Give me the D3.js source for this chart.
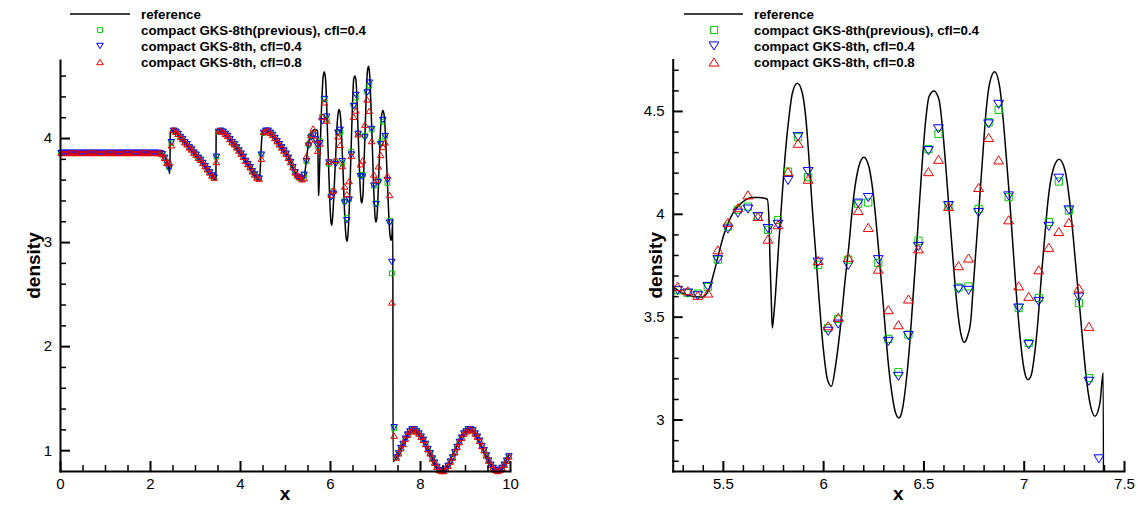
<!DOCTYPE html>
<html>
<head>
<meta charset="utf-8">
<script src="https://cdn.jsdelivr.net/npm/d3@7"></script>
<style>
  html, body { margin: 0; padding: 0; background: #fff; }
  svg { display: block; font-family: "Liberation Sans", Arial, Helvetica, sans-serif; }
</style>
</head>
<body>
<svg id="chart" width="1138" height="506"></svg>
<script>
// ---- Shu-Osher density profile, 200 cells on [0, 10] ----
const cellX = [
  0.025,0.075,0.125,0.175,0.225,0.275,0.325,0.375,0.425,0.475,
  0.525,0.575,0.625,0.675,0.725,0.775,0.825,0.875,0.925,0.975,
  1.025,1.075,1.125,1.175,1.225,1.275,1.325,1.375,1.425,1.475,
  1.525,1.575,1.625,1.675,1.725,1.775,1.825,1.875,1.925,1.975,
  2.025,2.075,2.125,2.175,2.225,2.275,2.325,2.375,2.425,2.475,
  2.525,2.575,2.625,2.675,2.725,2.775,2.825,2.875,2.925,2.975,
  3.025,3.075,3.125,3.175,3.225,3.275,3.325,3.375,3.425,3.475,
  3.525,3.575,3.625,3.675,3.725,3.775,3.825,3.875,3.925,3.975,
  4.025,4.075,4.125,4.175,4.225,4.275,4.325,4.375,4.425,4.475,
  4.525,4.575,4.625,4.675,4.725,4.775,4.825,4.875,4.925,4.975,
  5.025,5.075,5.125,5.175,5.225,5.275,5.325,5.375,5.425,5.475,
  5.525,5.575,5.625,5.675,5.725,5.775,5.825,5.875,5.925,5.975,
  6.025,6.075,6.125,6.175,6.225,6.275,6.325,6.375,6.425,6.475,
  6.525,6.575,6.625,6.675,6.725,6.775,6.825,6.875,6.925,6.975,
  7.025,7.075,7.125,7.175,7.225,7.275,7.325,7.375,7.425,7.475,
  7.525,7.575,7.625,7.675,7.725,7.775,7.825,7.875,7.925,7.975,
  8.025,8.075,8.125,8.175,8.225,8.275,8.325,8.375,8.425,8.475,
  8.525,8.575,8.625,8.675,8.725,8.775,8.825,8.875,8.925,8.975,
  9.025,9.075,9.125,9.175,9.225,9.275,9.325,9.375,9.425,9.475,
  9.525,9.575,9.625,9.675,9.725,9.775,9.825,9.875,9.925,9.975
];

// compact GKS-8th (previous), cfl = 0.4
const rhoPrev04 = [
  3.857,3.857,3.857,3.857,3.857,3.857,3.857,3.857,3.857,3.857,
  3.857,3.857,3.857,3.857,3.857,3.857,3.857,3.857,3.857,3.857,
  3.857,3.857,3.857,3.857,3.857,3.857,3.857,3.857,3.857,3.857,
  3.857,3.857,3.857,3.857,3.857,3.857,3.857,3.857,3.857,3.857,
  3.857,3.857,3.857,3.857,3.855,3.845,3.81,3.76,3.72,3.95,
  4.07,4.06,4.04,4.01,3.99,3.96,3.94,3.91,3.89,3.86,
  3.84,3.81,3.79,3.76,3.73,3.70,3.67,3.64,3.62,3.82,
  4.06,4.07,4.06,4.04,4.02,3.99,3.96,3.94,3.91,3.88,
  3.85,3.82,3.78,3.75,3.72,3.68,3.65,3.62,3.61,3.84,
  4.05,4.07,4.07,4.05,4.03,4.00,3.97,3.94,3.91,3.88,
  3.85,3.81,3.77,3.72,3.67,3.628,3.615,3.612,3.644,3.777,
  3.938,4.02,4.035,3.987,3.922,3.97,4.205,4.372,4.178,3.752,
  3.445,3.489,3.777,4.049,4.055,3.761,3.392,3.230,3.413,3.869,
  4.314,4.388,4.040,3.642,3.647,4.024,4.445,4.505,4.081,3.542,
  3.372,3.591,3.960,4.157,4.016,3.566,3.202,2.70,1.21,0.93,
  0.97,1.02,1.06,1.11,1.15,1.18,1.20,1.20,1.18,1.16,
  1.13,1.10,1.06,1.01,0.97,0.92,0.88,0.84,0.81,0.80,
  0.80,0.82,0.85,0.89,0.93,0.98,1.03,1.08,1.12,1.16,
  1.18,1.20,1.20,1.19,1.16,1.13,1.09,1.04,1.00,0.95,
  0.90,0.86,0.83,0.81,0.80,0.81,0.83,0.86,0.90,0.94
];

// compact GKS-8th, cfl = 0.4
const rhoNew04 = [
  3.857,3.857,3.857,3.857,3.857,3.857,3.857,3.857,3.857,3.857,
  3.857,3.857,3.857,3.857,3.857,3.857,3.857,3.857,3.857,3.857,
  3.857,3.857,3.857,3.857,3.857,3.857,3.857,3.857,3.857,3.857,
  3.857,3.857,3.857,3.857,3.857,3.857,3.857,3.857,3.857,3.857,
  3.857,3.857,3.857,3.857,3.855,3.845,3.81,3.76,3.71,3.96,
  4.07,4.06,4.04,4.01,3.99,3.96,3.94,3.91,3.89,3.86,
  3.84,3.81,3.79,3.76,3.73,3.70,3.67,3.64,3.62,3.82,
  4.06,4.07,4.06,4.04,4.02,3.99,3.96,3.94,3.91,3.88,
  3.85,3.82,3.78,3.75,3.72,3.68,3.65,3.62,3.61,3.84,
  4.05,4.07,4.07,4.05,4.03,4.00,3.97,3.94,3.91,3.88,
  3.85,3.81,3.77,3.72,3.67,3.628,3.615,3.602,3.647,3.777,
  3.926,4.003,4.023,3.987,3.928,3.949,4.162,4.375,4.205,3.765,
  3.429,3.464,3.749,4.052,4.079,3.777,3.380,3.210,3.408,3.841,
  4.307,4.413,4.040,3.634,3.628,4.006,4.437,4.532,4.087,3.542,
  3.364,3.574,3.939,4.173,4.019,3.595,3.186,2.809,1.22,0.93,
  0.97,1.02,1.06,1.11,1.15,1.18,1.20,1.20,1.18,1.16,
  1.13,1.10,1.06,1.01,0.97,0.92,0.88,0.84,0.81,0.80,
  0.80,0.82,0.85,0.89,0.93,0.98,1.03,1.08,1.12,1.16,
  1.18,1.20,1.20,1.19,1.16,1.13,1.09,1.04,1.00,0.95,
  0.90,0.86,0.83,0.81,0.80,0.81,0.83,0.86,0.90,0.94
];

// compact GKS-8th, cfl = 0.8
const rhoNew08 = [
  3.857,3.857,3.857,3.857,3.857,3.857,3.857,3.857,3.857,3.857,
  3.857,3.857,3.857,3.857,3.857,3.857,3.857,3.857,3.857,3.857,
  3.857,3.857,3.857,3.857,3.857,3.857,3.857,3.857,3.857,3.857,
  3.857,3.857,3.857,3.857,3.857,3.857,3.857,3.857,3.857,3.857,
  3.857,3.857,3.857,3.857,3.855,3.845,3.81,3.76,3.77,3.93,
  4.08,4.06,4.04,4.01,3.99,3.96,3.94,3.91,3.89,3.86,
  3.84,3.81,3.79,3.76,3.73,3.70,3.67,3.64,3.62,3.77,
  4.07,4.07,4.06,4.04,4.02,3.99,3.96,3.94,3.91,3.88,
  3.85,3.82,3.78,3.75,3.72,3.68,3.65,3.62,3.61,3.80,
  4.06,4.07,4.07,4.05,4.03,4.00,3.97,3.94,3.91,3.88,
  3.85,3.81,3.77,3.72,3.67,3.647,3.626,3.604,3.615,3.825,
  3.958,4.03,4.092,3.987,3.877,3.947,4.205,4.343,4.168,3.773,
  3.456,3.497,3.788,4.016,3.934,3.731,3.534,3.461,3.586,3.830,
  4.205,4.265,4.036,3.748,3.785,4.128,4.371,4.262,3.971,3.650,
  3.599,3.728,3.837,3.914,3.958,3.639,3.453,2.42,1.14,0.93,
  0.97,1.02,1.06,1.11,1.15,1.18,1.20,1.20,1.18,1.16,
  1.13,1.10,1.06,1.01,0.97,0.92,0.88,0.84,0.81,0.80,
  0.80,0.82,0.85,0.89,0.93,0.98,1.03,1.08,1.12,1.16,
  1.18,1.20,1.20,1.19,1.16,1.13,1.09,1.04,1.00,0.95,
  0.90,0.86,0.83,0.81,0.80,0.81,0.83,0.86,0.90,0.94
];

// fine-grid reference solution
const refX = [
  0,2.2,2.25,2.3,2.35,2.4,2.44,2.452,2.48,2.5,
  2.6,2.7,2.8,2.9,3.0,3.1,3.2,3.3,3.4,3.45,
  3.465,3.47,3.55,3.63,3.7,3.85,4.0,4.1,4.2,4.3,
  4.4,4.43,4.45,4.47,4.49,4.52,4.6,4.7,4.8,4.9,
  5.0,5.1,5.2,5.2465,5.2965,5.3465,5.3965,5.43,5.455,5.48,
  5.505,5.53,5.555,5.58,5.613,5.6465,5.68,5.7215,5.73,5.735,
  5.7415,5.7465,5.755,5.763,5.78,5.7965,5.813,5.83,5.8465,5.8715,
  5.8965,5.913,5.93,5.9465,5.963,5.98,5.9965,6.013,6.0215,6.0415,
  6.0615,6.0865,6.1115,6.128,6.145,6.1615,6.178,6.203,6.228,6.245,
  6.2615,6.278,6.295,6.3115,6.328,6.345,6.3615,6.378,6.395,6.4115,
  6.428,6.445,6.4615,6.478,6.495,6.5115,6.528,6.553,6.578,6.5945,
  6.6115,6.628,6.645,6.6615,6.678,6.6945,6.703,6.72,6.7365,6.7465,
  6.763,6.78,6.7965,6.813,6.83,6.855,6.88,6.8965,6.913,6.93,
  6.9465,6.963,6.98,6.9965,7.013,7.0215,7.038,7.055,7.0715,7.088,
  7.105,7.1215,7.1465,7.1765,7.205,7.23,7.2465,7.263,7.28,7.2965,
  7.313,7.33,7.355,7.38,7.3965,7.401,7.5,7.6,7.7,7.8,
  7.85,7.9,8.0,8.1,8.2,8.3,8.4,8.45,8.5,8.6,
  8.7,8.8,8.9,9.0,9.08,9.15,9.2,9.3,9.4,9.5,
  9.6,9.7,9.75,9.8,9.9,10.0
];
const refRho = [
  3.857,3.857,3.852,3.835,3.80,3.74,3.66,4.06,4.07,4.07,
  4.05,4.00,3.95,3.90,3.85,3.80,3.75,3.69,3.63,3.60,
  3.60,4.07,4.075,4.057,4.03,3.95,3.86,3.80,3.73,3.66,
  3.605,3.60,3.70,3.90,4.02,4.07,4.075,4.04,3.99,3.93,
  3.87,3.80,3.69,3.650,3.615,3.599,3.595,3.631,3.712,3.809,
  3.898,3.963,4.011,4.040,4.068,4.079,4.079,4.071,3.971,3.777,
  3.583,3.445,3.518,3.615,3.874,4.100,4.311,4.472,4.586,4.634,
  4.586,4.472,4.262,4.019,3.809,3.583,3.388,3.243,3.194,3.162,
  3.259,3.453,3.696,3.841,4.019,4.149,4.230,4.275,4.230,4.133,
  3.987,3.809,3.615,3.421,3.243,3.113,3.032,3.008,3.049,3.162,
  3.324,3.550,3.777,4.019,4.262,4.456,4.570,4.597,4.553,4.424,
  4.230,4.019,3.809,3.615,3.469,3.388,3.375,3.405,3.485,3.62,
  3.841,4.068,4.294,4.505,4.634,4.691,4.618,4.472,4.278,4.068,
  3.841,3.615,3.421,3.275,3.202,3.194,3.218,3.324,3.485,3.696,
  3.890,4.068,4.214,4.265,4.214,4.052,3.890,3.712,3.534,3.356,
  3.194,3.081,3.016,3.081,3.227,0.89,0.95,1.04,1.13,1.19,
  1.20,1.19,1.15,1.08,0.99,0.90,0.82,0.80,0.80,0.84,
  0.93,1.02,1.11,1.18,1.20,1.19,1.17,1.10,1.01,0.92,
  0.85,0.80,0.80,0.82,0.89,0.97
];

const legendLabels = [
  "reference",
  "compact GKS-8th(previous), cfl=0.4",
  "compact GKS-8th, cfl=0.4",
  "compact GKS-8th, cfl=0.8"
];

const leftXTicks = [0, 2, 4, 6, 8, 10];
const leftYTicks = [1, 2, 3, 4];
const rightXTicks = [5.5, 6, 6.5, 7, 7.5];
const rightYTicks = [3, 3.5, 4, 4.5];

const seriesStyle = [
  { values: rhoPrev04, shape: "square", color: "#00c800" },
  { values: rhoNew04,  shape: "down",   color: "#0000ff" },
  { values: rhoNew08,  shape: "up",     color: "#ee0000" }
];

const svg = d3.select("#chart");

function markerPath(shape, s) {
  // s: overall symbol size in px
  if (shape === "square") {
    const h = s * 0.4;
    return `M${-h},${-h}H${h}V${h}H${-h}Z`;
  }
  const w = s * 0.55, t = s * 0.45;
  if (shape === "down") return `M${-w},${-t}L${w},${-t}L0,${t}Z`;
  return `M${-w},${t}L${w},${t}L0,${-t}Z`;
}

function drawPanel(cfg) {
  const g = svg.append("g").attr("class", cfg.id);
  const x = d3.scaleLinear().domain(cfg.xDomain).range(cfg.xRange);
  const y = d3.scaleLinear().domain(cfg.yDomain).range(cfg.yRange);

  const clipId = cfg.id + "-clip";
  svg.append("clipPath").attr("id", clipId).append("rect")
    .attr("x", cfg.xRange[0]).attr("y", cfg.yRange[1])
    .attr("width", cfg.xRange[1] - cfg.xRange[0])
    .attr("height", cfg.yRange[0] - cfg.yRange[1]);

  // reference curve
  const line = d3.line()
    .x((d, i) => x(refX[i]))
    .y(d => y(d))
    .curve(d3.curveMonotoneX);
  g.append("path").datum(refRho)
    .attr("clip-path", `url(#${clipId})`)
    .attr("d", line)
    .attr("fill", "none")
    .attr("stroke", "#000")
    .attr("stroke-width", 1.5)
    .attr("stroke-linejoin", "round");

  // scheme results
  const [x0, x1] = cfg.xDomain, [y0, y1] = cfg.yDomain;
  seriesStyle.forEach(s => {
    const pts = cellX.map((cx, i) => [cx, s.values[i]])
      .filter(p => p[0] >= x0 && p[0] <= x1 && p[1] >= y0 && p[1] <= y1);
    g.append("g").selectAll("path").data(pts).join("path")
      .attr("transform", p => `translate(${x(p[0])},${y(p[1])})`)
      .attr("d", markerPath(s.shape, cfg.markerSize))
      .attr("fill", "none")
      .attr("stroke", s.color)
      .attr("stroke-width", 1);
  });

  // axes (ticks pointing inward)
  const xAxis = d3.axisBottom(x).tickValues(cfg.xTicks).tickFormat(d => String(d))
    .tickSizeInner(-10).tickSizeOuter(0).tickPadding(7);
  const yAxis = d3.axisLeft(y).tickValues(cfg.yTicks).tickFormat(d => String(d))
    .tickSizeInner(-10).tickSizeOuter(0).tickPadding(8);
  const xMinor = d3.axisBottom(x).tickValues(cfg.xMinor).tickFormat("")
    .tickSizeInner(-6).tickSizeOuter(0);
  const yMinor = d3.axisLeft(y).tickValues(cfg.yMinor).tickFormat("")
    .tickSizeInner(-6).tickSizeOuter(0);

  const styleAxis = (sel, major) => {
    sel.select(".domain").attr("stroke", "#000").attr("stroke-width", 2)
      .attr("stroke-linecap", "square");
    sel.selectAll(".tick line").attr("stroke", "#000").attr("stroke-width", major ? 2 : 1.5);
    sel.selectAll(".tick text").attr("fill", "#000")
      .style("font-size", "15px").style("font-family", '"Liberation Sans", Arial, sans-serif');
  };

  const gxm = g.append("g").attr("transform", `translate(0,${cfg.yRange[0]})`).call(xMinor);
  gxm.select(".domain").remove();
  styleAxis(gxm, false);
  const gym = g.append("g").attr("transform", `translate(${cfg.xRange[0]},0)`).call(yMinor);
  gym.select(".domain").remove();
  styleAxis(gym, false);

  const gx = g.append("g").attr("transform", `translate(0,${cfg.yRange[0]})`).call(xAxis);
  styleAxis(gx, true);
  const gy = g.append("g").attr("transform", `translate(${cfg.xRange[0]},0)`).call(yAxis);
  styleAxis(gy, true);

  // axis titles
  g.append("text")
    .attr("x", (cfg.xRange[0] + cfg.xRange[1]) / 2).attr("y", 500)
    .attr("text-anchor", "middle")
    .style("font-size", "19px").style("font-weight", "bold")
    .text("x");
  g.append("text")
    .attr("transform", `translate(${cfg.yTitleX},${(cfg.yRange[0] + cfg.yRange[1]) / 2}) rotate(-90)`)
    .attr("text-anchor", "middle")
    .style("font-size", "19px").style("font-weight", "bold")
    .text("density");

  // legend
  const lg = g.append("g");
  const rowY = [14, 30, 46, 62];
  lg.append("line")
    .attr("x1", cfg.legend.lineX[0]).attr("x2", cfg.legend.lineX[1])
    .attr("y1", rowY[0]).attr("y2", rowY[0])
    .attr("stroke", "#000").attr("stroke-width", 1.5);
  seriesStyle.forEach((s, k) => {
    lg.append("path")
      .attr("transform", `translate(${cfg.legend.markerX},${rowY[k + 1]})`)
      .attr("d", markerPath(s.shape, cfg.legend.markerSize))
      .attr("fill", "none").attr("stroke", s.color).attr("stroke-width", 1);
  });
  legendLabels.forEach((t, k) => {
    lg.append("text")
      .attr("x", cfg.legend.textX).attr("y", rowY[k] + 5)
      .style("font-size", "13.3px").style("font-weight", "bold")
      .text(t);
  });
}

const minorOf = (lo, hi, step, majors) =>
  d3.range(Math.round(lo / step), Math.round(hi / step) + 1)
    .map(k => +(k * step).toFixed(3))
    .filter(v => v > lo + 1e-9 && v <= hi + 1e-9 && !majors.some(m => Math.abs(m - v) < 1e-9));

drawPanel({
  id: "overview",
  xDomain: [0, 10], xRange: [60, 510],
  yDomain: [0.8, 4.75], yRange: [471, 60],
  xTicks: leftXTicks, yTicks: leftYTicks,
  xMinor: minorOf(0, 10, 0.5, leftXTicks),
  yMinor: minorOf(0.8, 4.75, 0.2, leftYTicks),
  markerSize: 6,
  yTitleX: 40,
  legend: { lineX: [70, 130], markerX: 100, textX: 141, markerSize: 6 }
});

drawPanel({
  id: "closeup",
  xDomain: [5.25, 7.5], xRange: [672.7, 1124],
  yDomain: [2.75, 4.75], yRange: [471, 59.5],
  xTicks: rightXTicks, yTicks: rightYTicks,
  xMinor: minorOf(5.25, 7.5, 0.1, rightXTicks),
  yMinor: minorOf(2.75, 4.75, 0.1, rightYTicks),
  markerSize: 9,
  yTitleX: 662,
  legend: { lineX: [684, 743], markerX: 714, textX: 754, markerSize: 9 }
});
</script>
</body>
</html>
